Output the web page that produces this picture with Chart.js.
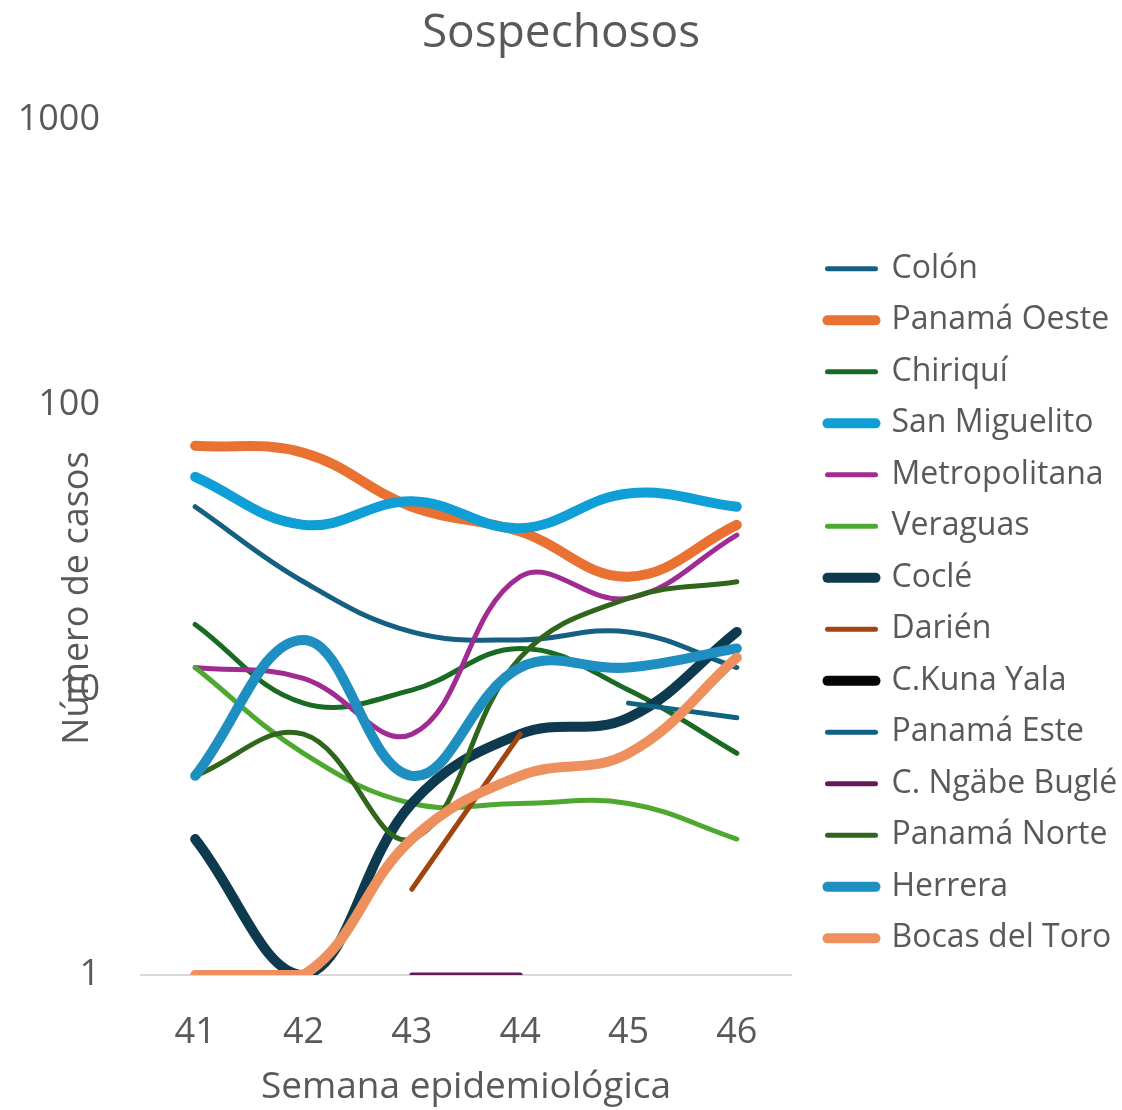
<!DOCTYPE html>
<html>
<head>
<meta charset="utf-8">
<script src="https://cdn.jsdelivr.net/npm/chart.js@4.4.1/dist/chart.umd.min.js"></script>
<style>
  body { margin: 0; background: #fff; }
  #box { width: 1122px; height: 1110px; }
</style>
</head>
<body>
<div id="box"><canvas id="graficoSospechosos"></canvas></div>
<script>
// Semanas epidemiológicas
const semanas = ['41', '42', '43', '44', '45', '46']
const yTicks = [1, 10, 100, 1000]

// casos sospechosos por región
const colon = [44, 24, 16, 15, 16, 12]
const panamaOeste = [72, 68, 44, 36, 25, 38]
const chiriqui = [17, 9, 10, 14, 10, 6]
const sanMiguelito = [56, 38, 46, 37, 49, 44]
const metropolitana = [12, 11, 7, 25, 21, 35]
const veraguas = [12, 6, 4, 4, 4, 3]
const cocle = [3, 1, 4, 7, 8, 16]
const darien = [null, null, 2, 7, null, null]
const kunaYala = [null, null, null, null, null, null]
const panamaEste = [null, null, null, null, 9, 8]
const ngabeBugle = [null, null, 1, 1, null, null]
const panamaNorte = [5, 7, 3, 13, 21, 24]
const herrera = [5, 15, 5, 12, 12, 14]
const bocasDelToro = [1, 1, 3, 5, 6, 13]

const regiones = [
	['Colón', colon, '#156082', 5],
	['Panamá Oeste', panamaOeste, '#E97132', 10],
	['Chiriquí', chiriqui, '#196B24', 5],
	['San Miguelito', sanMiguelito, '#0F9ED5', 10],
	['Metropolitana', metropolitana, '#A02B93', 5],
	['Veraguas', veraguas, '#4EA72E', 5],
	['Coclé', cocle, '#0D3A4E', 10],
	['Darién', darien, '#A0450F', 5],
	['C.Kuna Yala', kunaYala, '#050505', 10],
	['Panamá Este', panamaEste, '#0E6282', 5],
	['C. Ngäbe Buglé', ngabeBugle, '#621B59', 5],
	['Panamá Norte', panamaNorte, '#30651D', 5],
	['Herrera', herrera, '#1F8FC2', 10],
	['Bocas del Toro', bocasDelToro, '#EE8F5E', 10]
]

const FONT = '"Open Sans", "DejaVu Sans", sans-serif'
const GRIS = '#595959'

// título del eje Y encima de las etiquetas, como en Excel
const tituloEjeY = {
	id: 'tituloEjeY',
	afterDraw(chart) {
		const ctx = chart.ctx
		ctx.save()
		ctx.translate(78, 598)
		ctx.rotate(-Math.PI / 2)
		ctx.font = '36px ' + FONT
		ctx.fillStyle = GRIS
		ctx.textAlign = 'center'
		ctx.textBaseline = 'middle'
		ctx.fillText('Número de casos', 0, 0)
		ctx.restore()
	}
}

const datasets = regiones.map((r, i) => ({
	label: r[0],
	data: r[1],
	borderColor: r[2],
	backgroundColor: r[2],
	borderWidth: r[3],
	borderCapStyle: 'round',
	borderJoinStyle: 'round',
	pointRadius: 0,
	pointHoverRadius: 0,
	tension: 0.4,
	spanGaps: false,
	order: -i
}))

const generarGrafico = () => {
	let graficoCanvas = document.getElementById('graficoSospechosos')
	let lineChart = new Chart(graficoCanvas, {
		type: 'line',
		data: {
			labels: semanas,
			datasets: datasets
		},
		options: {
			responsive: true,
			maintainAspectRatio: false,
			animation: false,
			layout: { padding: 0 },
			plugins: {
				title: {
					display: true,
					text: 'Sospechosos',
					color: GRIS,
					font: { family: FONT, size: 46, weight: 'normal' },
					padding: { top: 6, bottom: 59 }
				},
				legend: {
					position: 'right',
					maxWidth: 314,
					// título vacío solo para bajar la leyenda
					title: { display: true, text: '', font: { size: 1 }, padding: { top: 96, bottom: 0 } },
					labels: {
						usePointStyle: true,
						pointStyle: 'line',
						pointStyleWidth: 48,
						color: GRIS,
						font: { family: FONT, size: 32 },
						padding: 19.5,
						sort: (a, b) => a.datasetIndex - b.datasetIndex,
						generateLabels: chart => Chart.defaults.plugins.legend.labels.generateLabels(chart)
							.map(l => ({ ...l, lineCap: 'round' }))
					}
				},
				tooltip: { enabled: false }
			},
			scales: {
				x: {
					offset: true,
					grid: { display: false, drawTicks: false },
					border: { display: true, color: '#D9D9D9', width: 2 },
					ticks: { color: GRIS, font: { family: FONT, size: 36 }, padding: 36 },
					title: {
						display: true,
						text: 'Semana epidemiológica',
						color: GRIS,
						font: { family: FONT, size: 37 },
						padding: { top: 0, bottom: 0 }
					},
					afterFit: s => { s.height = 135 }
				},
				y: {
					type: 'logarithmic',
					min: 1,
					max: 1000,
					grid: { display: false, drawTicks: false },
					border: { display: false },
					ticks: {
						color: GRIS,
						font: { family: FONT, size: 36 },
						padding: 41,
						callback: v => String(v)
					},
					afterBuildTicks: s => { s.ticks = yTicks.map(v => ({ value: v })) },
					afterFit: s => { s.width = 141 }
				},
				// separación entre el área del gráfico y la leyenda
				hueco: {
					type: 'linear',
					position: 'right',
					display: true,
					grid: { display: false, drawTicks: false },
					border: { display: false },
					ticks: { display: false },
					afterFit: s => { s.width = 17 }
				}
			}
		},
		plugins: [tituloEjeY]
	})
}

document.fonts.load('32px "Open Sans"').then(generarGrafico, generarGrafico)
</script>
</body>
</html>
